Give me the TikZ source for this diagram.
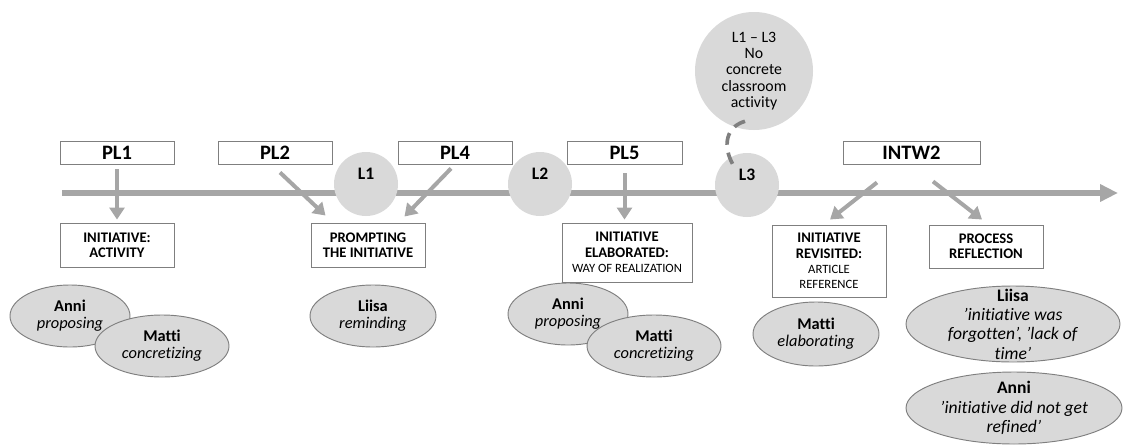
\documentclass[tikz,border=0pt]{standalone}
\usepackage{fontspec}
\setmainfont{Carlito}[Ligatures={TeX,NoCommon}]
\usetikzlibrary{arrows.meta,shapes.geometric,calc}
\definecolor{linegray}{RGB}{166,166,166}
\definecolor{edgegray}{RGB}{127,127,127}
\definecolor{fillgray}{RGB}{217,217,217}
\newcommand{\pu}{0.03cm}
\newcommand{\sublabel}[1]{{\mdseries\fontsize{10.8}{13}\selectfont #1}}

\begin{document}
\begin{tikzpicture}[x=0.03cm,y=-0.03cm,
  phase/.style={draw=edgegray,fill=white,line width=0.8pt,inner sep=0pt,minimum height=23*\pu,font=\bfseries\fontsize{17.5}{18}\selectfont},
  theme/.style={draw=edgegray,fill=white,line width=0.8pt,inner sep=0pt,align=center,font=\bfseries\fontsize{12.5}{13}\selectfont},
  lesson/.style={circle,fill=fillgray,inner sep=0pt,minimum size=64*\pu},
  lname/.style={inner sep=0pt,font=\bfseries\fontsize{15}{16}\selectfont},
  person/.style={ellipse,draw=edgegray,fill=fillgray,line width=0.8pt,inner sep=-0.8cm,align=center,font=\fontsize{14}{14.5}\selectfont},
  bigperson/.style={person,font=\fontsize{15}{16.5}\selectfont},
  arr/.style={draw=linegray,line width=0.12cm,-{Triangle[length=0.36cm,width=0.45cm]}},
  timeline/.style={draw=linegray,line width=0.18cm,-{Triangle[length=0.54cm,width=0.5cm]}},
  dashlink/.style={draw=edgegray,line width=0.11cm,dash pattern=on 0.36cm off 0.24cm},
]
\useasboundingbox (0,0) rectangle (1124,444);

% time line
\coordinate (tstart) at (62,193);
\coordinate (tend) at (1118,193);
\draw[timeline] (tstart) -- (tend);

% lessons
\node[lesson] (l1) at (366,184) {};
\node[lesson] (l2) at (540,184) {};
\node[lesson] (l3) at (747,185) {};
\node[lname] (l1t) at ($(l1)+(0,-10)$) {L1};
\node[lname] (l2t) at ($(l2)+(0,-10)$) {L2};
\node[lname] (l3t) at ($(l3)+(0,-10)$) {L3};
\node[lesson,minimum size=118*\pu,align=center,font=\fontsize{13.5}{14}\selectfont] (note) at (754,71)
  {L1 – L3\\No\\concrete\\classroom\\activity};

% data sources
\node[phase,minimum width=114*\pu] (pl1) at (117,152.5) {PL1};
\node[phase,minimum width=114*\pu] (pl2) at (275,152.5) {PL2};
\node[phase,minimum width=114*\pu] (pl4) at (455,152.5) {PL4};
\node[phase,minimum width=115*\pu] (pl5) at (624.5,152.5) {PL5};
\node[phase,minimum width=137*\pu] (intw2) at (911.5,152.5) {INTW2};

% themes
\node[theme,minimum width=114*\pu,minimum height=44*\pu] (act) at (117,245) {INITIATIVE:\\ACTIVITY};
\node[theme,minimum width=114*\pu,minimum height=44*\pu] (prompt) at (368,245) {PROMPTING\\THE INITIATIVE};
\node[theme,minimum width=130*\pu,minimum height=59*\pu] (elab) at (627,252.5)
  {INITIATIVE\\ELABORATED:\\\sublabel{WAY OF REALIZATION}};
\node[theme,minimum width=114*\pu,minimum height=72*\pu] (revis) at (829,261)
  {INITIATIVE\\REVISITED:\\\sublabel{ARTICLE}\\\sublabel{REFERENCE}};
\node[theme,minimum width=114*\pu,minimum height=43*\pu] (refl) at (986,246.5) {PROCESS\\REFLECTION};

\draw[arr] ($(pl1.south)+(0,5)$) -- ($(act.north)+(0,-3)$);
\draw[arr] ($(pl2.south)+(5,8)$) -- ($(prompt.north west)+(15,-7)$);
\draw[arr] ($(pl4.south)+(-4,4)$) -- ($(prompt.north east)+(-21,-6)$);
\draw[arr] ($(pl5.south)+(0,9)$) -- ($(pl5.south |- elab.north)+(0,-3)$);
\draw[arr] ($(intw2.south)+(-34.5,18)$) -- ($(revis.north)+(1,-5)$);
\draw[arr] ($(intw2.south)+(21.5,17)$) -- ($(refl.north)+(-4,-5)$);

% actors
\node[person,minimum width=120*\pu,minimum height=62*\pu] (anni1) at (70,316) {\textbf{Anni}\\\textit{proposing}};
\node[person,minimum width=134*\pu,minimum height=62*\pu] (matti1) at (162,346) {\textbf{Matti}\\\textit{concretizing}};
\node[person,minimum width=126*\pu,minimum height=62*\pu] (liisa1) at (373,316) {\textbf{Liisa}\\\textit{reminding}};
\node[person,minimum width=120*\pu,minimum height=62*\pu] (anni2) at (568,314) {\textbf{Anni}\\\textit{proposing}};
\node[person,minimum width=134*\pu,minimum height=62*\pu] (matti2) at (654,346) {\textbf{Matti}\\\textit{concretizing}};
\node[person,minimum width=126*\pu,minimum height=64*\pu] (matti3) at (816,334) {\textbf{Matti}\\\textit{elaborating}};
\node[bigperson,minimum width=214*\pu,minimum height=76*\pu] (liisa2) at (1013,324)
  {\textbf{Liisa}\\\textit{'initiative was}\\\textit{forgotten', 'lack of}\\\textit{time'}};
\node[bigperson,minimum width=216*\pu,minimum height=72*\pu] (anni3) at (1014,408)
  {\textbf{Anni}\\\textit{'initiative did not get}\\\textit{refined'}};

% link note to L3
\draw[dashlink] ($(note.south)+(-9,-9)$) .. controls ($(note.south)+(-32,-2)$) and ($(l3.north)+(-23,-1)$) .. ($(l3.north)+(-12,15)$);
\end{tikzpicture}
\end{document}
